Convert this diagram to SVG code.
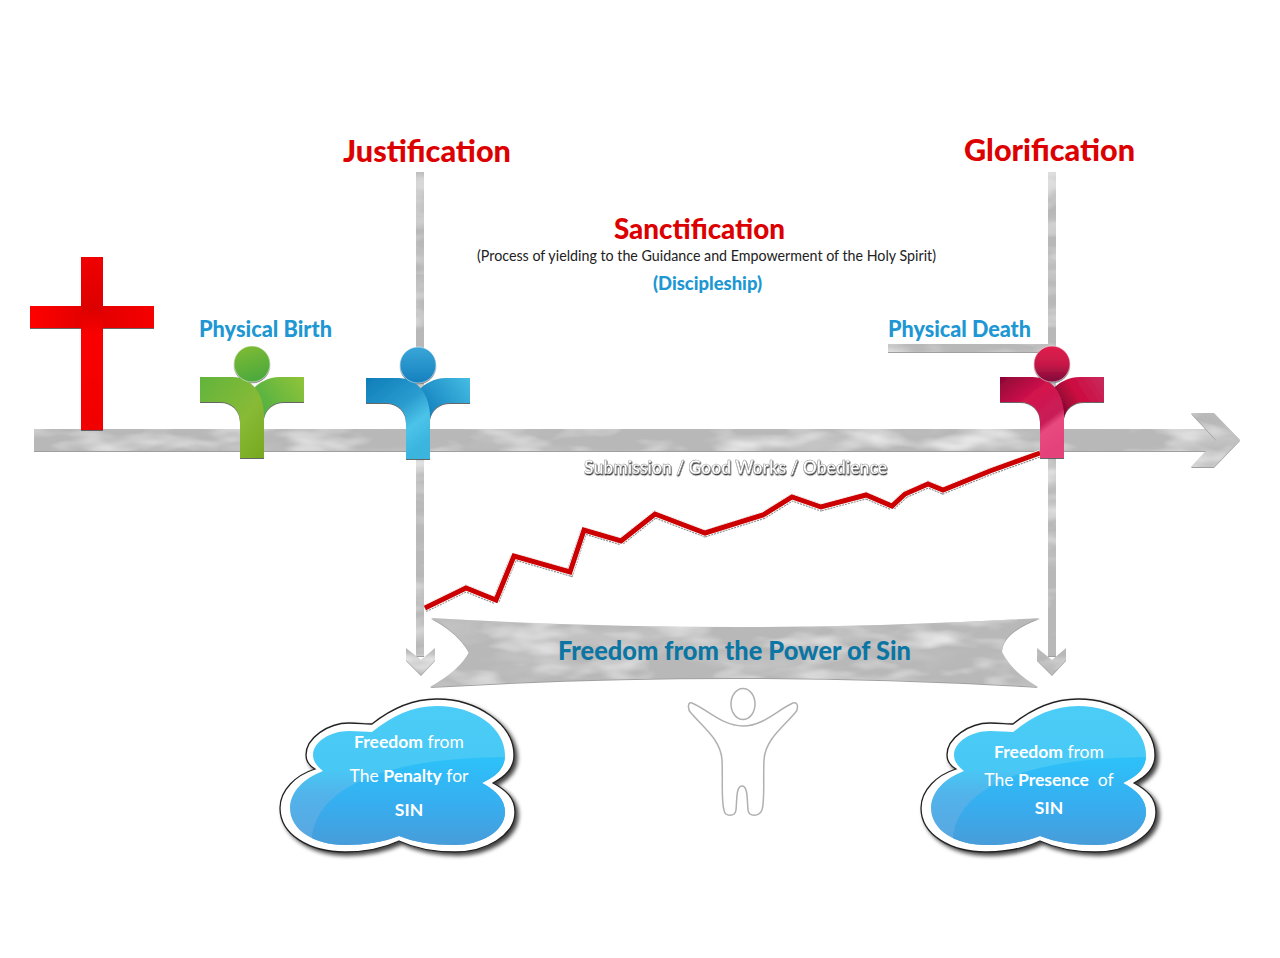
<svg xmlns="http://www.w3.org/2000/svg" xmlns:xlink="http://www.w3.org/1999/xlink" width="1280" height="958" viewBox="0 0 1280 958">
<style>
text{font-family:Lato,"Open Sans","Liberation Sans",sans-serif}
.b{font-weight:700}
.red{fill:#dd0000;font-weight:900}
.blue{fill:#2097d3;font-weight:900}
.ct{fill:#fff;font-size:17.5px}
.metal{fill:#b8b8b8;filter:url(#metal)}
.soft{filter:url(#soft)}
</style>
<defs>
<filter id="metal" x="-5%" y="-10%" width="110%" height="125%">
<feTurbulence type="fractalNoise" baseFrequency="0.014 0.04" numOctaves="3" seed="4" result="n"/>
<feColorMatrix in="n" type="matrix" values="0 0 0 0 0.55  0 0 0 0 0.55  0 0 0 0 0.55  3 0 0 0 -1.4" result="d"/>
<feColorMatrix in="n" type="matrix" values="0 0 0 0 0.78  0 0 0 0 0.78  0 0 0 0 0.78  0 3 0 0 -1.4" result="l"/>
<feMerge result="m"><feMergeNode in="d"/><feMergeNode in="l"/></feMerge>
<feComposite in="m" in2="SourceAlpha" operator="in" result="tex"/>
<feColorMatrix in="SourceAlpha" type="matrix" values="0 0 0 0 0.3  0 0 0 0 0.3  0 0 0 0 0.3  0 0 0 0.9 0" result="sa"/>
<feOffset in="sa" dy="1.2" result="so"/>
<feMerge><feMergeNode in="so"/><feMergeNode in="SourceGraphic"/><feMergeNode in="tex"/></feMerge>
</filter>
<filter id="soft" x="-10%" y="-10%" width="120%" height="120%"><feDropShadow dx="0" dy="1" stdDeviation="0.5" flood-color="#555" flood-opacity="0.9"/></filter>
<filter id="cs" x="-10%" y="-10%" width="125%" height="125%"><feDropShadow dx="3" dy="3" stdDeviation="2" flood-color="#000" flood-opacity="0.75"/></filter>
<filter id="ts" x="-5%" y="-30%" width="110%" height="170%"><feDropShadow dx="0.6" dy="1.2" stdDeviation="0.6" flood-color="#333" flood-opacity="1"/></filter>
<linearGradient id="crossH" x1="0" x2="1" y1="0" y2="0"><stop offset="0" stop-color="#ff0000"/><stop offset="0.5" stop-color="#e00000"/><stop offset="1" stop-color="#f60000"/></linearGradient>
<linearGradient id="crossV" x1="0" x2="0" y1="0" y2="1"><stop offset="0" stop-color="#f00000"/><stop offset="0.3" stop-color="#dc0000"/><stop offset="0.45" stop-color="#fa0000"/><stop offset="1" stop-color="#f00000"/></linearGradient>
<linearGradient id="gF" x1="0" x2="1" y1="0" y2="1"><stop offset="0" stop-color="#62b43c"/><stop offset="0.6" stop-color="#88ba36"/><stop offset="1" stop-color="#76a820"/></linearGradient>
<linearGradient id="gR" x1="0" x2="1" y1="0.6" y2="0"><stop offset="0" stop-color="#4fb044"/><stop offset="1" stop-color="#92c438"/></linearGradient>
<linearGradient id="gH" x1="0" x2="0.3" y1="0" y2="1"><stop offset="0" stop-color="#82bc34"/><stop offset="1" stop-color="#4eaa3c"/></linearGradient>
<linearGradient id="bF" x1="0" x2="0.6" y1="0" y2="1"><stop offset="0" stop-color="#0e7db8"/><stop offset="0.5" stop-color="#2a9ccf"/><stop offset="0.75" stop-color="#4cc3e8"/><stop offset="1" stop-color="#3ab4de"/></linearGradient>
<linearGradient id="bR" x1="0" x2="1" y1="0.6" y2="0"><stop offset="0" stop-color="#1380bd"/><stop offset="1" stop-color="#45bde4"/></linearGradient>
<linearGradient id="bH" x1="0" x2="0" y1="0" y2="1"><stop offset="0" stop-color="#3aa6d8"/><stop offset="1" stop-color="#1580bf"/></linearGradient>
<linearGradient id="rF" x1="0" x2="0.6" y1="0" y2="1"><stop offset="0" stop-color="#8c0436"/><stop offset="0.4" stop-color="#d3134c"/><stop offset="0.72" stop-color="#c81f58"/><stop offset="0.8" stop-color="#e84a80"/><stop offset="1" stop-color="#e4437a"/></linearGradient>
<linearGradient id="rR" x1="0" x2="1" y1="0.7" y2="0.2"><stop offset="0" stop-color="#70042c"/><stop offset="0.5" stop-color="#cc0a40"/><stop offset="1" stop-color="#c8285a"/></linearGradient>
<linearGradient id="rH" x1="0" x2="0" y1="0" y2="1"><stop offset="0" stop-color="#e0204e"/><stop offset="0.5" stop-color="#c81848"/><stop offset="1" stop-color="#7c0a38"/></linearGradient>
<linearGradient id="cl1" x1="0" x2="0" y1="0" y2="1"><stop offset="0" stop-color="#4bcdf7"/><stop offset="0.45" stop-color="#48c8f5"/><stop offset="0.65" stop-color="#52b2ea"/><stop offset="1" stop-color="#5aa6e0"/></linearGradient>
<linearGradient id="cl2" x1="0" x2="0" y1="0" y2="1"><stop offset="0" stop-color="#2dc2f9"/><stop offset="0.5" stop-color="#36aef0"/><stop offset="1" stop-color="#4a9ad6"/></linearGradient>
<path id="pf" d="M-52 13H-20C0 13 12 30 12 52V94H-12V58C-12 46-20 38-32 38H-52Z"/>
<path id="pr" d="M52 13H28C16 13 6 19 0 26C8 34 12 44 12 54C14 44 22 38 32 38H52Z"/>
<path id="co" d="M372 724C392 708 415 699 437 699C478 699 514 725 514 755C514 768 506 776 493 783C506 790 515 798 515 812C515 836 485 852 455 852C432 852 414 848 399 841C384 848 364 852 345 852C310 852 280 835 280 808C280 790 296 775 315 769C308 765 306 760 306 755C306 738 328 723 349 723C358 723 366 724 372 724Z"/>
<path id="ci" d="M372 732C392 716 412 706 437 706C475 706 505 728 505 755C505 768 497 776 482 783C497 791 505 800 505 812C505 832 480 845 455 845C432 845 414 842 399 836C384 842 364 845 345 845C314 845 290 830 290 808C290 792 304 778 323 771C316 766 313 760 313 755C313 742 330 731 349 731C358 731 366 732 372 732Z"/>
<clipPath id="cc"><use xlink:href="#ci"/></clipPath>
</defs>

<g id="connectors">
<rect class="metal" x="416" y="172" width="8" height="484"/>
<path class="metal" d="M406 648L421 660L435 648V660L421 675L406 660Z"/>
<rect class="metal" x="1048" y="172" width="8" height="484"/>
<path class="metal" d="M1037 648L1052 660L1066 648V660L1052 675L1037 660Z"/>
<rect class="metal" x="888" y="344" width="162" height="8"/>
<path class="metal" d="M34 429H1206L1216 440L1206 451H34Z"/>
<path class="metal" d="M1191 413H1214L1240 440L1214 467H1191L1216 440Z"/>
<polyline id="growth-shadow" points="425,608 466,588 496,600 514,556 570,572 584,530 621,541 655,514 705,533 763,515 792,497 821,507 866,495 892,506 905,494 928,484 943,490 990,471 1040,453" fill="none" stroke="#888" stroke-width="7.5" stroke-dasharray="2 1" transform="translate(0 .6)"/>
<polyline id="growth-halo" points="425,608 466,588 496,600 514,556 570,572 584,530 621,541 655,514 705,533 763,515 792,497 821,507 866,495 892,506 905,494 928,484 943,490 990,471 1040,453" fill="none" stroke="#fff" stroke-width="6.5"/>
<polyline id="growth" points="425,608 466,588 496,600 514,556 570,572 584,530 621,541 655,514 705,533 763,515 792,497 821,507 866,495 892,506 905,494 928,484 943,490 990,471 1040,453" fill="none" stroke="#cc0000" stroke-width="5" stroke-linejoin="miter"/>
</g>

<g id="cross" class="soft">
<rect x="30" y="306" width="124" height="22" fill="url(#crossH)"/>
<rect x="81" y="257" width="22" height="173" fill="url(#crossV)"/>
</g>

<g id="person-green" class="soft" transform="translate(252 364)">
<use xlink:href="#pr" fill="url(#gR)"/><use xlink:href="#pf" fill="url(#gF)"/><circle r="18" fill="url(#gH)" stroke="#fff" stroke-width="0.5"/>
</g>
<g id="person-blue" class="soft" transform="translate(418 365)">
<use xlink:href="#pr" fill="url(#bR)"/><use xlink:href="#pf" fill="url(#bF)"/><circle r="18" fill="url(#bH)" stroke="#fff" stroke-width="0.5"/>
</g>
<g id="person-red" class="soft" transform="translate(1052 364)">
<use xlink:href="#pr" fill="url(#rR)"/><use xlink:href="#pf" fill="url(#rF)"/><circle r="18" fill="url(#rH)" stroke="#fff" stroke-width="0.5"/>
</g>

<g id="titles">
<text class="red" x="343" y="162" font-size="31" textLength="168" lengthAdjust="spacingAndGlyphs">Justification</text>
<text class="red" x="964" y="161" font-size="31" textLength="171" lengthAdjust="spacingAndGlyphs">Glorification</text>
<text class="red" x="614" y="239" font-size="28" textLength="171" lengthAdjust="spacingAndGlyphs">Sanctification</text>
<text x="477" y="261" font-size="15" fill="#222" textLength="459" lengthAdjust="spacingAndGlyphs">(Process of yielding to the Guidance and Empowerment of the Holy Spirit)</text>
<text class="blue" x="653" y="290" font-size="18" textLength="109" lengthAdjust="spacingAndGlyphs">(Discipleship)</text>
<text class="blue" x="199" y="337" font-size="22" textLength="133" lengthAdjust="spacingAndGlyphs">Physical Birth</text>
<text class="blue" x="888" y="337" font-size="22" textLength="143" lengthAdjust="spacingAndGlyphs">Physical Death</text>
<text class="b" x="584" y="474" font-size="18" fill="#fff" stroke="#888" stroke-width="0.4" filter="url(#ts)" textLength="303" lengthAdjust="spacingAndGlyphs">Submission / Good Works / Obedience</text>
</g>

<g id="banner">
<path class="metal" d="M431 618Q735 636 1040 618Q1002 632 1002 652Q1012 672 1038 687Q735 669 430 687Q460 670 469 652Q458 632 431 618Z"/>
<text x="558" y="660" font-size="26" font-weight="900" fill="#0b75a3" textLength="353" lengthAdjust="spacingAndGlyphs">Freedom from the Power of Sin</text>
</g>

<g id="figure">
<path d="M692 703C705 708 722 726 743 726C764 726 780 708 793 703C798 701 799 709 795 713C783 727 765 740 764 760C763 780 765 800 762 810C759 817 749 817 748 810C747 800 748 786 742 786C736 786 737 800 736 810C735 817 725 817 724 810C721 800 723 780 722 760C721 740 703 727 691 713C687 709 688 701 692 703Z" fill="#fff" stroke="#b0b0b0" stroke-width="1.5"/>
<ellipse cx="743" cy="704" rx="12" ry="15.5" fill="#fff" stroke="#b0b0b0" stroke-width="1.5"/>
</g>

<g id="cloud-left">
<use xlink:href="#co" fill="#fff" stroke="#222" stroke-width="1.3" filter="url(#cs)"/>
<use xlink:href="#ci" fill="url(#cl1)"/>
<path clip-path="url(#cc)" d="M312 850C306 795 370 757 510 757V850Z" fill="url(#cl2)"/>
<text class="ct" x="409" y="748" text-anchor="middle"><tspan class="b">Freedom</tspan> from</text>
<text class="ct" x="409" y="782" text-anchor="middle">The <tspan class="b">Penalty</tspan> for</text>
<text class="ct b" x="409" y="816" text-anchor="middle">SIN</text>
</g>

<g id="cloud-right">
<g transform="translate(641 0)">
<use xlink:href="#co" fill="#fff" stroke="#222" stroke-width="1.3" filter="url(#cs)"/>
<use xlink:href="#ci" fill="url(#cl1)"/>
<path clip-path="url(#cc)" d="M312 850C306 795 370 757 510 757V850Z" fill="url(#cl2)"/>
</g>
<text class="ct" x="1049" y="758" text-anchor="middle"><tspan class="b">Freedom</tspan> from</text>
<text class="ct" x="1049" y="786" text-anchor="middle" xml:space="preserve">The <tspan class="b">Presence</tspan>  of</text>
<text class="ct b" x="1049" y="814" text-anchor="middle">SIN</text>
</g>
</svg>
